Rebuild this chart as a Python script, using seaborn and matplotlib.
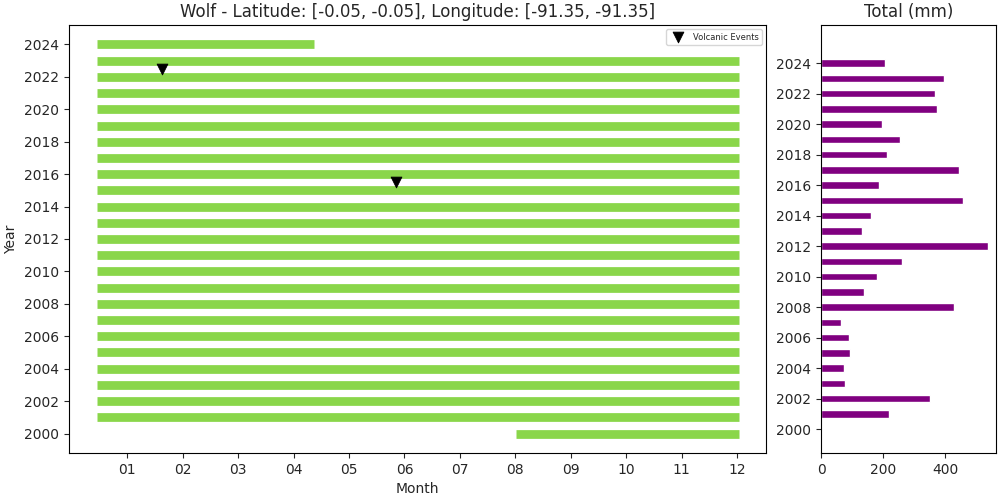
import matplotlib
matplotlib.use("Agg")
import matplotlib.pyplot as plt
import seaborn as sns
import pandas as pd
import numpy as np

years = list(range(2000, 2025))
seg_start = [8.02] + [0.45] * 24
seg_end = [12.04] * 24 + [4.37]

volc_month = [1.63, 5.85]
volc_year = [2022.5, 2015.5]

bar_years = list(range(2001, 2025))
totals = [219, 352, 77, 74, 94, 90, 65, 429, 139, 181, 261, 539, 132, 161,
          458, 187, 445, 212, 255, 196, 373, 368, 397, 206]

month_labels = ["01", "02", "03", "04", "05", "06", "07", "08", "09", "10", "11", "12"]

sns.set_style("ticks")
plt.rcParams['font.family'] = ['DejaVu Sans']

fig = plt.figure(figsize=(10, 5), dpi=100)
ax = fig.add_axes([0.069, 0.094, 0.697, 0.856])
ax2 = fig.add_axes([0.821, 0.094, 0.175, 0.856])

green = '#8ad64a'
for y, s, e in zip(years, seg_start, seg_end):
    ax.plot([s, e], [y, y], color=green, linewidth=6.3, solid_capstyle='butt')

vdf = pd.DataFrame({"Month": volc_month, "Year": volc_year})
sns.scatterplot(data=vdf, x="Month", y="Year", marker='v', color='black', s=60,
                ax=ax, label="Volcanic Events", zorder=5, edgecolor='black')

ax.set_xlim(-0.05, 12.52)
ax.set_ylim(1998.8, 2025.2)
ax.set_xticks(range(1, 13))
ax.set_xticklabels(month_labels)
ax.set_yticks(range(2000, 2025, 2))
ax.set_xlabel("Month")
ax.set_ylabel("Year")
ax.set_title("Wolf - Latitude: [-0.05, -0.05], Longitude: [-91.35, -91.35]")
ax.legend(loc='upper right', fontsize=6, frameon=True)

bdf = pd.DataFrame({"Year": bar_years, "Total": totals})
sns.barplot(data=bdf, x="Total", y="Year", orient='y', native_scale=True,
            color='#800080', saturation=1, width=0.5, ax=ax2)
ax2.set_ylim(1998.43, 2026.5)
ax2.set_xlim(0, 564)
ax2.set_yticks(range(2000, 2025, 2))
ax2.set_xticks([0, 200, 400])
ax2.set_xlabel("")
ax2.set_ylabel("")
ax2.set_title("Total (mm)")

for a in (ax, ax2):
    for sp in a.spines.values():
        sp.set_visible(True)
        sp.set_color('black')

fig.savefig("out.png", dpi=100)
